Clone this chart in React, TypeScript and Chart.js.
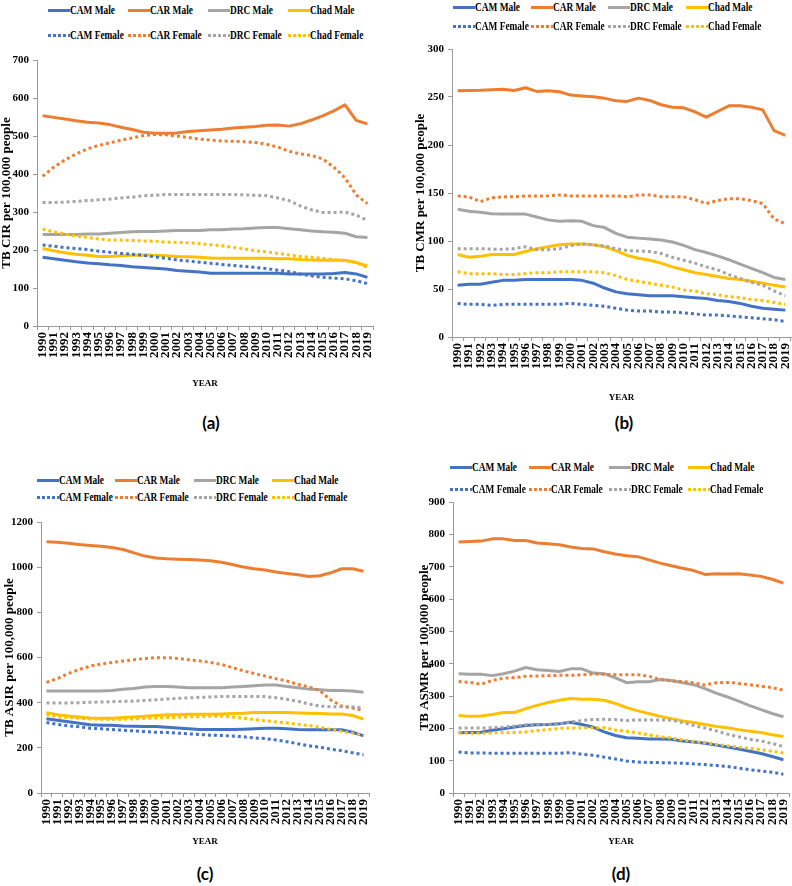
import React, { useEffect, useRef } from "react";
import { Chart, registerables } from "chart.js";

Chart.register(...registerables);

const YEARS = [
  "1990", "1991", "1992", "1993", "1994", "1995", "1996", "1997", "1998", "1999",
  "2000", "2001", "2002", "2003", "2004", "2005", "2006", "2007", "2008", "2009",
  "2010", "2011", "2012", "2013", "2014", "2015", "2016", "2017", "2018", "2019",
];

const SERIES_LABELS = ["CAM Male", "CAR Male", "DRC Male", "Chad Male", "CAM Female", "CAR Female", "DRC Female", "Chad Female"];

// (a) TB CIR
const cirCamMale = [181, 177, 173, 169, 166, 164, 161, 159, 156, 154, 152, 150, 146, 144, 142, 139, 139, 139, 139, 139, 139, 139, 137, 137, 137, 137, 138, 141, 137, 128];
const cirCarMale = [553, 549, 545, 540, 536, 534, 530, 523, 517, 510, 507, 507, 508, 512, 514, 516, 518, 521, 523, 525, 528, 529, 526, 532, 542, 553, 566, 582, 541, 532];
const cirDrcMale = [241, 241, 241, 241, 242, 242, 244, 246, 248, 249, 249, 250, 251, 251, 251, 253, 253, 255, 256, 258, 259, 259, 256, 253, 250, 248, 247, 244, 235, 233];
const cirChadMale = [204, 198, 193, 189, 186, 183, 183, 185, 186, 187, 186, 185, 183, 182, 181, 179, 178, 178, 178, 178, 178, 177, 177, 175, 174, 173, 173, 173, 167, 158];
const cirCamFemale = [213, 210, 206, 204, 201, 197, 194, 191, 189, 186, 182, 178, 174, 171, 168, 165, 162, 159, 157, 154, 151, 147, 143, 137, 132, 128, 126, 124, 119, 112];
const cirCarFemale = [394, 418, 437, 453, 466, 475, 482, 489, 495, 501, 504, 503, 500, 496, 492, 489, 487, 486, 485, 483, 478, 471, 460, 453, 449, 440, 418, 390, 345, 322];
const cirDrcFemale = [325, 325, 326, 328, 330, 332, 334, 337, 339, 343, 344, 346, 346, 346, 346, 346, 346, 346, 345, 344, 343, 337, 330, 316, 306, 299, 299, 300, 292, 278];
const cirChadFemale = [255, 248, 242, 237, 233, 229, 226, 226, 225, 224, 223, 221, 220, 219, 217, 214, 211, 207, 203, 198, 195, 191, 187, 183, 181, 178, 175, 172, 167, 154];

// (b) TB CMR
const cmrCamMale = [54, 55, 55, 57, 59, 59, 60, 60, 60, 60, 60, 59, 56, 51, 47, 45, 44, 43, 43, 43, 42, 41, 40, 38, 37, 35, 32, 30, 29, 28];
const cmrCarMale = [256.5, 256.8, 257, 257.5, 258, 256.8, 259.6, 255.8, 256.5, 255.5, 252, 251, 250.2, 248.8, 246, 245.4, 248.8, 246.4, 241.9, 239.4, 238.7, 234.6, 229, 234.9, 240.8, 240.8, 239.4, 236.6, 215, 210];
const cmrDrcMale = [133, 131, 130, 128.5, 128, 128, 128, 125, 122, 120.5, 121, 120.5, 116, 114, 108, 104, 103, 102, 101, 99, 95.5, 91, 88, 84.5, 80.5, 76, 71.5, 67, 62, 60];
const cmrChadMale = [86, 83, 84, 86, 86, 86, 89, 92, 94, 96, 97, 97, 96, 94, 90, 85, 82, 80, 77, 73, 70, 67, 65, 63, 61, 60, 58, 56, 54, 52];
const cmrCamFemale = [35, 34, 34, 33, 34, 34, 34, 34, 34, 34, 35, 34, 33, 32, 30, 28, 27, 27, 26, 26, 25, 24, 23, 23, 22, 21, 20, 19, 18, 16];
const cmrCarFemale = [147, 146, 141, 145, 146, 146, 147, 147, 147, 148, 147, 147, 147, 147, 147, 146, 148, 148, 146, 146, 146, 143, 139, 142, 144, 144, 142, 139, 123, 118];
const cmrDrcFemale = [92, 92, 92, 91.5, 91.5, 92, 94, 91, 91, 92, 95, 97, 96, 95, 92, 90, 89.5, 89, 87, 83, 80, 77, 73, 70, 65, 61, 57, 54, 48, 43];
const cmrChadFemale = [68, 66, 66, 66, 65, 65, 66, 67, 67, 68, 68, 68, 68, 67, 64, 60, 58, 56, 54, 52, 49, 48, 45, 44, 42, 41, 39, 38, 36, 34];

// (c) TB ASIR
const asirCamMale = [329, 322, 316, 309, 302, 300, 300, 297, 296, 294, 294, 291, 288, 285, 281, 281, 281, 281, 282, 284, 287, 287, 284, 281, 280, 280, 280, 280, 269, 253];
const asirCarMale = [1113, 1110, 1106, 1100, 1096, 1093, 1087, 1078, 1063, 1049, 1041, 1037, 1035, 1034, 1032, 1028, 1022, 1012, 1001, 993, 987, 979, 972, 966, 959, 962, 975, 993, 993, 982];
const asirDrcMale = [452, 452, 452, 452, 452, 452, 454, 459, 463, 469, 472, 472, 469, 466, 466, 466, 466, 469, 472, 475, 478, 478, 472, 466, 460, 457, 454, 454, 452, 446];
const asirChadMale = [356, 347, 341, 337, 332, 331, 331, 334, 337, 340, 343, 346, 347, 349, 349, 349, 350, 352, 353, 356, 357, 357, 356, 354, 353, 352, 350, 350, 343, 327];
const asirCamFemale = [312, 304, 297, 293, 287, 284, 281, 278, 275, 272, 269, 268, 265, 262, 259, 256, 255, 252, 249, 244, 241, 235, 227, 218, 209, 203, 194, 187, 178, 169];
const asirCarFemale = [490, 507, 529, 547, 562, 571, 578, 584, 590, 596, 599, 599, 596, 590, 585, 578, 569, 556, 541, 529, 518, 506, 496, 481, 470, 453, 412, 385, 376, 365];
const asirDrcFemale = [399, 399, 399, 400, 402, 403, 404, 406, 407, 410, 413, 416, 419, 421, 424, 425, 427, 427, 427, 427, 427, 422, 415, 406, 394, 385, 382, 382, 381, 378];
const asirChadFemale = [347, 338, 334, 331, 328, 327, 327, 327, 328, 331, 332, 334, 335, 337, 338, 340, 340, 337, 331, 325, 320, 315, 310, 304, 299, 291, 282, 273, 265, 254];

// (d) TB ASMR
const asmrCamMale = [186, 187, 188, 194, 199, 204, 209, 211, 212, 214, 219, 212, 204, 189, 178, 171, 169, 167, 167, 166, 161, 158, 154, 148, 142, 136, 129, 122, 113, 103];
const asmrCarMale = [776, 778, 779, 786, 786, 781, 781, 773, 771, 768, 761, 756, 755, 746, 739, 734, 731, 721, 711, 703, 695, 688, 676, 678, 677, 678, 674, 670, 661, 649];
const asmrDrcMale = [369, 367, 367, 363, 369, 377, 388, 381, 379, 376, 384, 384, 371, 369, 356, 341, 344, 344, 351, 348, 341, 335, 323, 309, 297, 284, 270, 258, 246, 236];
const asmrChadMale = [240, 237, 238, 243, 249, 249, 261, 271, 280, 287, 292, 290, 290, 287, 277, 264, 254, 246, 237, 230, 223, 218, 212, 206, 202, 196, 191, 187, 180, 175];
const asmrCamFemale = [127, 124, 124, 123, 123, 123, 123, 123, 123, 123, 125, 120, 117, 111, 105, 99, 96, 94, 94, 93, 92, 90, 88, 85, 82, 77, 72, 68, 64, 58];
const asmrCarFemale = [345, 342, 336, 348, 355, 357, 361, 362, 363, 364, 364, 365, 368, 367, 366, 366, 366, 361, 351, 347, 345, 341, 334, 341, 342, 339, 335, 330, 326, 318];
const asmrDrcFemale = [201, 201, 201, 202, 204, 207, 211, 211, 212, 214, 220, 224, 227, 228, 227, 224, 226, 226, 226, 225, 218, 209, 201, 192, 182, 174, 166, 161, 153, 144];
const asmrChadFemale = [186, 185, 185, 186, 186, 187, 189, 193, 196, 200, 201, 201, 202, 202, 195, 191, 186, 180, 174, 170, 164, 159, 156, 151, 146, 142, 138, 134, 129, 124];

const COLORS = ["#4472C4", "#ED7D31", "#A5A5A5", "#FFC000", "#4472C4", "#ED7D31", "#A5A5A5", "#FFC000"];
const DASHED = [false, false, false, false, true, true, true, true];

const SERIF = "'Liberation Serif', 'Times New Roman', serif";
const AXIS = "#9a9a9a";
const Y_TITLE_SIZE = 13;
const X_TITLE_SIZE = 9;

type PanelCfg = {
  tag: string;
  yTitle: string;
  max: number;
  step: number;
  series: number[][];
  plot: { l: number; t: number; r: number; b: number };
  yTitleX: number;
  xTitleY: number;
  legend: { x: number; y1: number; y2: number; dx: number };
  tagPos: { x: number; y: number };
};

const PANELS: PanelCfg[] = [
  {
    tag: "(a)", yTitle: "TB CIR per 100,000 people", max: 700, step: 100,
    series: [cirCamMale, cirCarMale, cirDrcMale, cirChadMale, cirCamFemale, cirCarFemale, cirDrcFemale, cirChadFemale],
    plot: { l: 37, t: 60, r: 373, b: 326 }, yTitleX: 7, xTitleY: 384,
    legend: { x: 48, y1: 10, y2: 35, dx: 80 }, tagPos: { x: 211, y: 423 },
  },
  {
    tag: "(b)", yTitle: "TB CMR per 100,000 people", max: 300, step: 50,
    series: [cmrCamMale, cmrCarMale, cmrDrcMale, cmrChadMale, cmrCamFemale, cmrCarFemale, cmrDrcFemale, cmrChadFemale],
    plot: { l: 452, t: 49, r: 791, b: 337 }, yTitleX: 421, xTitleY: 398,
    legend: { x: 453, y1: 7, y2: 26, dx: 77.7 }, tagPos: { x: 624, y: 423 },
  },
  {
    tag: "(c)", yTitle: "TB ASIR per 100,000 people", max: 1200, step: 200,
    series: [asirCamMale, asirCarMale, asirDrcMale, asirChadMale, asirCamFemale, asirCarFemale, asirDrcFemale, asirChadFemale],
    plot: { l: 41, t: 522, r: 369, b: 793 }, yTitleX: 10, xTitleY: 842,
    legend: { x: 37, y1: 480, y2: 497, dx: 78.3 }, tagPos: { x: 205, y: 874 },
  },
  {
    tag: "(d)", yTitle: "TB ASMR per 100,000 people", max: 900, step: 100,
    series: [asmrCamMale, asmrCarMale, asmrDrcMale, asmrChadMale, asmrCamFemale, asmrCarFemale, asmrDrcFemale, asmrChadFemale],
    plot: { l: 453, t: 502, r: 789, b: 793 }, yTitleX: 425, xTitleY: 842,
    legend: { x: 450, y1: 467, y2: 489, dx: 79.3 }, tagPos: { x: 621, y: 874 },
  },
];

function Panel({ cfg }: { cfg: PanelCfg }) {
  const ref = useRef<HTMLCanvasElement | null>(null);
  const lhY = Y_TITLE_SIZE * 1.2;
  const lhX = X_TITLE_SIZE * 1.2;
  const cl = Math.floor(cfg.yTitleX - lhY / 2) - 1;
  const ct = cfg.plot.t - 16;
  const cr = cfg.plot.r + 20;
  const cb = cfg.xTitleY + 8;
  const cw = cr - cl;
  const ch = cb - ct;
  const titlePad = cfg.yTitleX - cl - lhY / 2;
  const pb = cb - cfg.xTitleY - lhX / 2;
  const xh = cb - pb - cfg.plot.b;
  const yw = cfg.plot.l - cl;

  useEffect(() => {
    if (!ref.current) return;
    const chart = new Chart(ref.current, {
      type: "line",
      data: {
        labels: YEARS,
        datasets: cfg.series.map((d, i) => ({
          label: SERIES_LABELS[i],
          data: d,
          borderColor: COLORS[i],
          backgroundColor: COLORS[i],
          borderWidth: 3,
          borderDash: DASHED[i] ? [3, 3] : [],
          borderCapStyle: "butt" as const,
          borderJoinStyle: "round" as const,
          pointRadius: 0,
          pointHoverRadius: 0,
          tension: 0,
          fill: false,
          order: 8 - i,
        })),
      },
      options: {
        responsive: false,
        maintainAspectRatio: false,
        animation: false,
        layout: { padding: { left: 0, top: cfg.plot.t - ct, right: cr - cfg.plot.r, bottom: pb } },
        plugins: { legend: { display: false }, tooltip: { enabled: false } },
        scales: {
          x: {
            type: "category",
            offset: true,
            grid: { display: true, drawOnChartArea: false, drawTicks: true, tickLength: 4, color: AXIS, offset: true },
            border: { display: true, color: AXIS, width: 1 },
            ticks: {
              autoSkip: false,
              minRotation: 90,
              maxRotation: 90,
              padding: 2,
              color: "#000",
              font: { family: SERIF, size: 13, weight: "bold" },
            },
            title: {
              display: true,
              text: "YEAR",
              color: "#000",
              font: { family: SERIF, size: X_TITLE_SIZE, weight: "bold" },
              padding: { top: 0, bottom: 0 },
            },
            afterFit: (s: any) => { s.height = xh; },
          },
          y: {
            min: 0,
            max: cfg.max,
            grid: { display: true, drawOnChartArea: false, drawTicks: true, tickLength: 4, color: AXIS },
            border: { display: true, color: AXIS, width: 1 },
            ticks: {
              stepSize: cfg.step,
              padding: 4,
              color: "#000",
              font: { family: SERIF, size: 11, weight: "bold" },
              callback: (v: any) => String(v),
            },
            title: {
              display: true,
              text: cfg.yTitle,
              color: "#000",
              font: { family: SERIF, size: Y_TITLE_SIZE, weight: "bold" },
              padding: { top: titlePad, bottom: 0 },
            },
            afterFit: (s: any) => { s.width = yw; },
          },
        },
      },
    } as any);
    return () => chart.destroy();
  }, [cfg]);

  const legendItem = (i: number) => {
    const row = i < 4 ? 0 : 1;
    const col = i % 4;
    const x = cfg.legend.x + col * cfg.legend.dx;
    const y = row === 0 ? cfg.legend.y1 : cfg.legend.y2;
    const sample: React.CSSProperties = DASHED[i]
      ? { background: `repeating-linear-gradient(to right, ${COLORS[i]} 0px, ${COLORS[i]} 3px, transparent 3px, transparent 5px)` }
      : { background: COLORS[i] };
    return (
      <div key={i} style={{ position: "absolute", left: x, top: y - 9, height: 18, display: "flex", alignItems: "center", whiteSpace: "nowrap" }}>
        <div style={{ width: 22, height: 3, ...sample }} />
        <span style={{ fontFamily: SERIF, fontWeight: "bold", fontSize: 13, color: "#000", display: "inline-block", transform: "scaleX(0.72)", transformOrigin: "left center" }}>
          {SERIES_LABELS[i]}
        </span>
      </div>
    );
  };

  return (
    <>
      <canvas
        ref={ref}
        width={cw}
        height={ch}
        style={{ position: "absolute", left: cl, top: ct, width: cw, height: ch }}
      />
      {SERIES_LABELS.map((_, i) => legendItem(i))}
      <div style={{ position: "absolute", left: cfg.tagPos.x - 30, top: cfg.tagPos.y - 11, width: 60, height: 22, lineHeight: "22px", textAlign: "center", fontFamily: "Lato, 'Open Sans', sans-serif", fontWeight: 700, fontSize: 17, color: "#000" }}>
        {cfg.tag}
      </div>
    </>
  );
}

export default function App() {
  return (
    <div style={{ position: "absolute", left: 0, top: 0, width: 792, height: 886, overflow: "hidden", background: "#fff" }}>
      {PANELS.map((p) => (
        <Panel key={p.tag} cfg={p} />
      ))}
    </div>
  );
}
